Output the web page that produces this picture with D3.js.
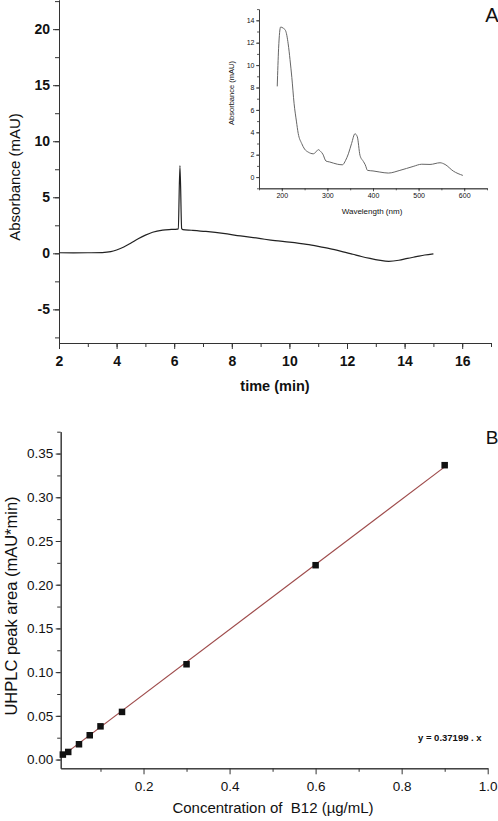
<!DOCTYPE html>
<html>
<head>
<meta charset="utf-8">
<script src="https://cdn.jsdelivr.net/npm/d3@7"></script>
<style>
  body { margin: 0; background: #fff; }
  svg { display: block; }
  text { font-family: "Liberation Sans", Arial, sans-serif; fill: #111; }
  .axis path, .axis line { stroke: #333; }
</style>
</head>
<body>
<div id="chart"></div>
<script>
// chromatogram (panel A)
var chromTime = [2.0, 2.5, 3.0, 3.5, 3.8, 4.0, 4.25, 4.5, 4.75, 5.0, 5.25, 5.6, 5.9, 6.1, 6.14, 6.2, 6.26, 6.3, 6.6, 7.1, 7.7, 8.3, 8.9, 9.5, 10.0, 10.6, 11.0, 11.4, 11.8, 12.2, 12.5, 12.8, 13.1, 13.45, 13.8, 14.1, 14.4, 14.7, 15.0];
var chromAbs  = [0.05, 0.04, 0.05, 0.07, 0.15, 0.3, 0.56, 0.92, 1.3, 1.62, 1.88, 2.07, 2.13, 2.16, 2.2, 7.83, 2.2, 2.12, 2.06, 1.95, 1.78, 1.55, 1.35, 1.13, 1.0, 0.8, 0.62, 0.42, 0.18, -0.08, -0.28, -0.45, -0.6, -0.71, -0.62, -0.45, -0.3, -0.15, -0.04];
var timeTicks = [2, 4, 6, 8, 10, 12, 14, 16];
var absTicks = [-5, 0, 5, 10, 15, 20];

// UV spectrum (inset)
var specWave = [190, 193, 197.5, 203, 208, 214, 218, 222, 227, 232, 236, 243.6, 250, 258, 269, 275, 280, 285, 290, 297, 305, 313, 322, 333, 340, 346, 353, 360.5, 365.6, 371.5, 378.8, 383, 388, 400, 415, 433.6, 459, 488, 507, 525, 547, 558, 576, 597];
var specAbs  = [8.1, 11.5, 13.4, 13.3, 13.1, 11.9, 10.5, 8.9, 6.55, 5.0, 3.9, 3.0, 2.5, 2.23, 2.08, 2.25, 2.45, 2.3, 2.05, 1.43, 1.35, 1.25, 1.15, 1.1, 1.5, 2.08, 3.0, 3.87, 3.6, 1.94, 1.4, 1.1, 0.6, 0.55, 0.45, 0.36, 0.6, 0.95, 1.15, 1.13, 1.28, 1.13, 0.54, 0.15];
var waveTicks = [200, 300, 400, 500, 600];
var specTicks = [0, 2, 4, 6, 8, 10, 12, 14];

// calibration (panel B)
var conc = [0.0125, 0.025, 0.05, 0.075, 0.1, 0.15, 0.3, 0.6, 0.9];
var peakArea = [0.0057, 0.0087, 0.0175, 0.0278, 0.038, 0.0545, 0.109, 0.2223, 0.3367];
var slope = 0.37199;
var concTicks = [0.2, 0.4, 0.6, 0.8, 1.0];
var areaTicks = [0, 0.05, 0.1, 0.15, 0.2, 0.25, 0.3, 0.35];

var W = 498, H = 821;
var svg = d3.select("#chart").append("svg").attr("width", W).attr("height", H);

function minors(lo, hi, step) {
  var out = [];
  for (var v = Math.ceil(lo / step - 1e-9) * step; v <= hi + 1e-9; v += step) out.push(+v.toFixed(6));
  return out;
}

//---------------- panel A
var xA = d3.scaleLinear().domain([2, 17]).range([59, 491]);
var yA = d3.scaleLinear().domain([-8, 22.6]).range([343, 0]);

var gA = svg.append("g");
gA.append("g").attr("class", "axis").attr("transform", "translate(0,343)")
  .call(d3.axisBottom(xA).tickValues(minors(2, 17, 1)).tickSize(4).tickSizeOuter(0).tickFormat(""));
gA.append("g").attr("class", "axis").attr("transform", "translate(0,343)")
  .call(d3.axisBottom(xA).tickValues(timeTicks).tickSize(6).tickPadding(7).tickSizeOuter(0).tickFormat(d3.format("d")))
  .call(function (g) { g.selectAll("text").attr("font-size", 14).attr("font-weight", "bold"); });
gA.append("g").attr("class", "axis").attr("transform", "translate(59,0)")
  .call(d3.axisLeft(yA).tickValues(minors(-8, 22.6, 2.5)).tickSize(4).tickSizeOuter(0).tickFormat(""));
gA.append("g").attr("class", "axis").attr("transform", "translate(59,0)")
  .call(d3.axisLeft(yA).tickValues(absTicks).tickSize(6).tickPadding(3).tickSizeOuter(0).tickFormat(function (d) { return String(d); }))
  .call(function (g) { g.selectAll("text").attr("font-size", 14).attr("font-weight", "bold"); });

gA.append("path")
  .datum(d3.zip(chromTime, chromAbs))
  .attr("fill", "none").attr("stroke", "#222").attr("stroke-width", 1.2)
  .attr("d", d3.line().x(function (d) { return xA(d[0]); }).y(function (d) { return yA(d[1]); }).curve(d3.curveMonotoneX));

gA.append("text").attr("transform", "translate(20,177) rotate(-90)")
  .attr("text-anchor", "middle").attr("font-size", 15).text("Absorbance (mAU)");
gA.append("text").attr("x", 275).attr("y", 391).attr("text-anchor", "middle")
  .attr("font-size", 14.5).attr("font-weight", "bold").text("time (min)");
gA.append("text").attr("x", 492).attr("y", 22).attr("text-anchor", "middle")
  .attr("font-size", 20).text("A");

//---------------- inset
var xI = d3.scaleLinear().domain([150, 650]).range([259, 487]);
var yI = d3.scaleLinear().domain([-1, 15]).range([188.3, 9.1]);
var gI = svg.append("g");
gI.append("g").attr("class", "axis").attr("transform", "translate(0,188.3)")
  .call(d3.axisBottom(xI).tickValues(minors(150, 650, 50)).tickSize(2).tickSizeOuter(0).tickFormat(""));
gI.append("g").attr("class", "axis").attr("transform", "translate(0,188.3)")
  .call(d3.axisBottom(xI).tickValues(waveTicks).tickSize(3).tickPadding(2).tickSizeOuter(0).tickFormat(d3.format("d")))
  .call(function (g) { g.selectAll("text").attr("font-size", 7); });
gI.append("g").attr("class", "axis").attr("transform", "translate(259,0)")
  .call(d3.axisLeft(yI).tickValues(minors(-1, 15, 1)).tickSize(2).tickSizeOuter(0).tickFormat(""));
gI.append("g").attr("class", "axis").attr("transform", "translate(259,0)")
  .call(d3.axisLeft(yI).tickValues(specTicks).tickSize(3).tickPadding(1.5).tickSizeOuter(0).tickFormat(d3.format("d")))
  .call(function (g) { g.selectAll("text").attr("font-size", 7); });
gI.selectAll(".axis path, .axis line").attr("stroke-width", 0.8);

gI.append("path")
  .datum(d3.zip(specWave, specAbs))
  .attr("fill", "none").attr("stroke", "#666").attr("stroke-width", 1)
  .attr("d", d3.line().x(function (d) { return xI(d[0]); }).y(function (d) { return yI(d[1]); }).curve(d3.curveMonotoneX));

gI.append("text").attr("transform", "translate(234,93) rotate(-90)")
  .attr("text-anchor", "middle").attr("font-size", 7.5).text("Absorbance (mAU)");
gI.append("text").attr("x", 372).attr("y", 214).attr("text-anchor", "middle")
  .attr("font-size", 8).text("Wavelength (nm)");

//---------------- panel B
var xB = d3.scaleLinear().domain([0.0075, 1.0]).range([60.7, 487.7]);
var yB = d3.scaleLinear().domain([-0.01, 0.375]).range([768.3, 431.7]);
var gB = svg.append("g");
gB.append("g").attr("class", "axis").attr("transform", "translate(0,768.3)")
  .call(d3.axisBottom(xB).tickValues([0.1, 0.3, 0.5, 0.7, 0.9]).tickSize(3.5).tickSizeOuter(0).tickFormat(""));
gB.append("g").attr("class", "axis").attr("transform", "translate(0,768.3)")
  .call(d3.axisBottom(xB).tickValues(concTicks).tickSize(6).tickPadding(7).tickSizeOuter(0).tickFormat(d3.format(".1f")))
  .call(function (g) { g.selectAll("text").attr("font-size", 13.5); });
gB.append("g").attr("class", "axis").attr("transform", "translate(60.7,0)")
  .call(d3.axisLeft(yB).tickValues(minors(0, 0.375, 0.025)).tickSize(3.5).tickSizeOuter(0).tickFormat(""));
gB.append("g").attr("class", "axis").attr("transform", "translate(60.7,0)")
  .call(d3.axisLeft(yB).tickValues(areaTicks).tickSize(5).tickPadding(2.5).tickSizeOuter(0).tickFormat(d3.format(".2f")))
  .call(function (g) { g.selectAll("text").attr("font-size", 13.5); });

gB.append("line")
  .attr("x1", xB(0.0075)).attr("y1", yB(slope * 0.0075))
  .attr("x2", xB(0.9)).attr("y2", yB(slope * 0.9))
  .attr("stroke", "#9e4b4b").attr("stroke-width", 1.2);

var sq = 6.5;
gB.selectAll("rect.pt")
  .data(d3.zip(conc, peakArea))
  .enter()
  .append("rect")
  .attr("class", "pt")
  .attr("x", function (d) { return xB(d[0]) - sq / 2; })
  .attr("y", function (d) { return yB(d[1]) - sq / 2; })
  .attr("width", sq).attr("height", sq)
  .attr("fill", "#111");

gB.append("text").attr("x", 418).attr("y", 741)
  .attr("font-size", 9.5).attr("font-weight", "bold").text("y = " + slope + " . x");
gB.append("text").attr("transform", "translate(17,606) rotate(-90)")
  .attr("text-anchor", "middle").attr("font-size", 16.5).text("UHPLC peak area (mAU*min)");
gB.append("text").attr("x", 273).attr("y", 813).attr("text-anchor", "middle")
  .attr("font-size", 15).style("white-space", "pre")
  .text("Concentration of  B12 (\u00b5g/mL)");
gB.append("text").attr("x", 492).attr("y", 443.5).attr("text-anchor", "middle")
  .attr("font-size", 19).text("B");
</script>
</body>
</html>
